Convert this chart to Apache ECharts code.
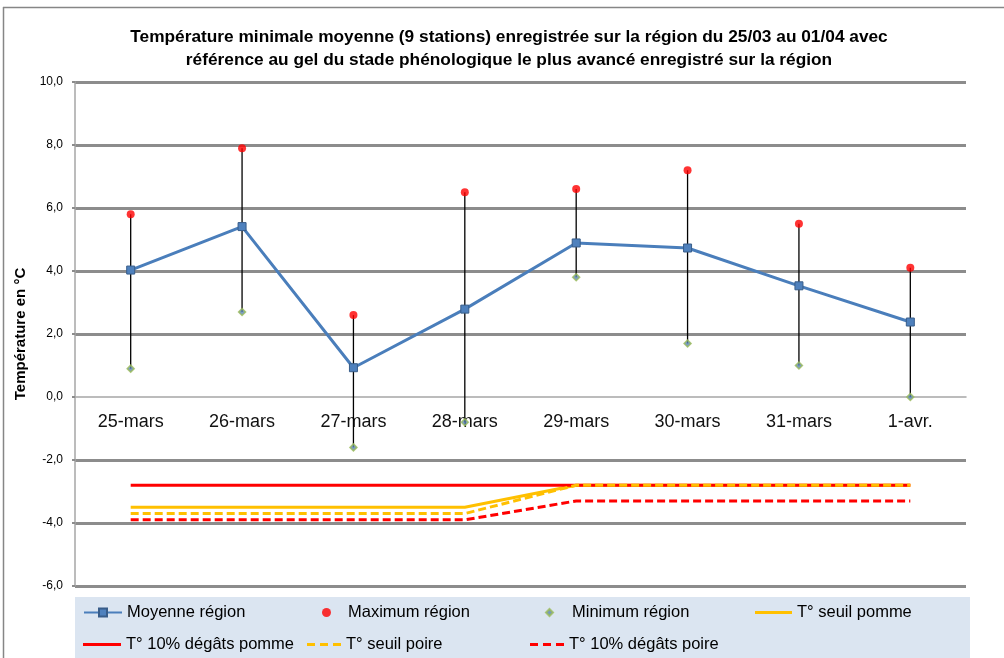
<!DOCTYPE html>
<html>
<head>
<meta charset="utf-8">
<script src="https://cdn.jsdelivr.net/npm/echarts@6/dist/echarts.min.js"></script>
<style>
  html, body { margin: 0; padding: 0; background: #fff; }
  #chart { width: 1004px; height: 658px; }
</style>
</head>
<body>
<div id="chart"></div>
<script>
// données
const days = ['25-mars', '26-mars', '27-mars', '28-mars', '29-mars', '30-mars', '31-mars', '1-avr.'];
const moyenne = [4.03, 5.41, 0.93, 2.79, 4.89, 4.73, 3.53, 2.38];
const maximum = [5.8, 7.9, 2.6, 6.5, 6.6, 7.2, 5.5, 4.1];
const minimum = [0.9, 2.7, -1.6, -0.8, 3.8, 1.7, 1.0, 0.0];
const seuilPomme = [-3.5, -3.5, -3.5, -3.5, -2.8, -2.8, -2.8, -2.8];
const degatsPomme = [-2.8, -2.8, -2.8, -2.8, -2.8, -2.8, -2.8, -2.8];
const seuilPoire = [-3.7, -3.7, -3.7, -3.7, -2.8, -2.8, -2.8, -2.8];
const degatsPoire = [-3.9, -3.9, -3.9, -3.9, -3.3, -3.3, -3.3, -3.3];
const yTicks = { min: -6, max: 10, step: 2 };

const FONT = '"Liberation Sans", Arial, sans-serif';
const myChart = echarts.init(document.getElementById('chart'));

// barres min -> max
const rangeData = days.map(function (d, i) { return [i, minimum[i], maximum[i]]; });
// étiquettes des jours posées sous la ligne du zéro
const labelData = days.map(function (d, i) { return [i, 0]; });

const dashIcon = 'path://M0,0h8v3h-8z M13,0h8v3h-8z M26,0h8v3h-8z';

// une légende par élément pour les placer comme dans Excel
function legendItem(name, left, top, w, h, padLeft, icon) {
  const lg = {
    data: [name],
    left: left,
    top: top,
    padding: 0,
    itemWidth: w,
    itemHeight: h,
    itemGap: 0,
    selectedMode: false,
    textStyle: { fontFamily: FONT, fontSize: 16.5, color: '#000', padding: [0, 0, 0, padLeft || 0] }
  };
  if (icon) lg.icon = icon;
  return lg;
}

const option = {
  animation: false,
  backgroundColor: '#fff',
  textStyle: { fontFamily: FONT },
  title: {
    text: 'Température minimale moyenne (9 stations) enregistrée sur la région du 25/03 au 01/04 avec\nréférence au gel du stade phénologique le plus avancé enregistré sur la région',
    left: 504,
    top: 21,
    textAlign: 'center',
    textStyle: { fontFamily: FONT, fontSize: 17.3, fontWeight: 'bold', color: '#000', lineHeight: 23 }
  },
  graphic: [
    { type: 'rect', shape: { x: 75, y: 597, width: 895, height: 65 }, style: { fill: '#dbe5f1' }, z: -1 },
    { type: 'line', shape: { x1: 3, y1: 7.5, x2: 1004, y2: 7.5 }, style: { stroke: '#868686', lineWidth: 1.5 } },
    { type: 'line', shape: { x1: 3.5, y1: 7, x2: 3.5, y2: 658 }, style: { stroke: '#868686', lineWidth: 1.5 } }
  ],
  legend: [
    legendItem('Moyenne région', 83, 604, 38, 10),
    legendItem('Maximum région', 322, 604, 9, 9, 12),
    legendItem('Minimum région', 545, 604, 7, 7, 14),
    legendItem('T° seuil pomme', 755, 604, 37, 3, 0, 'rect'),
    legendItem('T° 10% dégâts pomme', 83, 636, 38, 3, 0, 'rect'),
    legendItem('T° seuil poire', 307, 636, 34, 3, 0, dashIcon),
    legendItem('T° 10% dégâts poire', 530, 636, 34, 3, 0, dashIcon)
  ],
  grid: { left: 75, right: 38, top: 82, bottom: 72, outerBoundsMode: 'none' },
  xAxis: {
    type: 'category',
    data: days,
    boundaryGap: true,
    axisLine: { onZero: true, lineStyle: { color: '#a6a6a6', width: 1.5 } },
    axisTick: { show: false },
    axisLabel: { show: false },
    splitLine: { show: false }
  },
  yAxis: {
    type: 'value',
    min: yTicks.min,
    max: yTicks.max,
    interval: yTicks.step,
    name: 'Température en °C',
    nameLocation: 'middle',
    nameGap: 43,
    nameTextStyle: { fontFamily: FONT, fontSize: 15, fontWeight: 'bold', color: '#000' },
    axisLine: { show: true, lineStyle: { color: '#a6a6a6', width: 1.5 } },
    axisTick: { show: true, length: 3, lineStyle: { color: '#8c8c8c', width: 2 } },
    axisLabel: {
      margin: 12,
      fontSize: 12,
      color: '#000',
      formatter: function (v) { return v.toFixed(1).replace('.', ','); }
    },
    splitLine: {
      show: true,
      // la ligne du zéro est remplacée par l'axe des catégories
      lineStyle: {
        width: 3,
        color: ['#8c8c8c', '#8c8c8c', '#8c8c8c', 'rgba(0,0,0,0)', '#8c8c8c', '#8c8c8c', '#8c8c8c', '#8c8c8c', '#8c8c8c']
      }
    }
  },
  series: [
    {
      name: 'jours',
      type: 'custom',
      data: labelData,
      encode: { x: 0, y: 1 },
      silent: true,
      renderItem: function (params, api) {
        const p = api.coord([api.value(0), api.value(1)]);
        return {
          type: 'text',
          x: p[0],
          y: p[1] + 25,
          style: {
            text: days[params.dataIndex],
            fontFamily: FONT,
            fontSize: 18,
            fill: '#111',
            align: 'center',
            verticalAlign: 'middle'
          }
        };
      }
    },
    {
      name: 'étendue',
      type: 'custom',
      data: rangeData,
      encode: { x: 0, y: [1, 2] },
      silent: true,
      renderItem: function (params, api) {
        const lo = api.coord([api.value(0), api.value(1)]);
        const hi = api.coord([api.value(0), api.value(2)]);
        return {
          type: 'line',
          shape: { x1: lo[0], y1: lo[1], x2: hi[0], y2: hi[1] },
          style: { stroke: '#000', lineWidth: 1.3 }
        };
      }
    },
    {
      name: 'T° seuil pomme',
      type: 'line',
      data: seuilPomme,
      symbol: 'none',
      itemStyle: { color: '#ffc000' },
      lineStyle: { color: '#ffc000', width: 3 }
    },
    {
      name: 'T° 10% dégâts pomme',
      type: 'line',
      data: degatsPomme,
      symbol: 'none',
      itemStyle: { color: '#ff0000' },
      lineStyle: { color: '#ff0000', width: 3 }
    },
    {
      name: 'T° seuil poire',
      type: 'line',
      data: seuilPoire,
      symbol: 'none',
      itemStyle: { color: '#ffc000' },
      lineStyle: { color: '#ffc000', width: 3, type: [8, 4] }
    },
    {
      name: 'T° 10% dégâts poire',
      type: 'line',
      data: degatsPoire,
      symbol: 'none',
      itemStyle: { color: '#ff0000' },
      lineStyle: { color: '#ff0000', width: 3, type: [8, 4] }
    },
    {
      name: 'Moyenne région',
      type: 'line',
      data: moyenne,
      symbol: 'rect',
      symbolSize: 8,
      itemStyle: { color: '#4f81bd', borderColor: '#385d8a', borderWidth: 1 },
      lineStyle: { color: '#4a7ebb', width: 3 }
    },
    {
      name: 'Maximum région',
      type: 'scatter',
      data: maximum,
      symbol: 'circle',
      symbolSize: 8,
      itemStyle: { color: '#ff0000' }
    },
    {
      name: 'Minimum région',
      type: 'scatter',
      data: minimum,
      symbol: 'diamond',
      symbolSize: 7,
      itemStyle: { color: '#5b86b0', borderColor: '#9bbb59', borderWidth: 1.5 }
    }
  ]
};

myChart.setOption(option);
</script>
</body>
</html>
